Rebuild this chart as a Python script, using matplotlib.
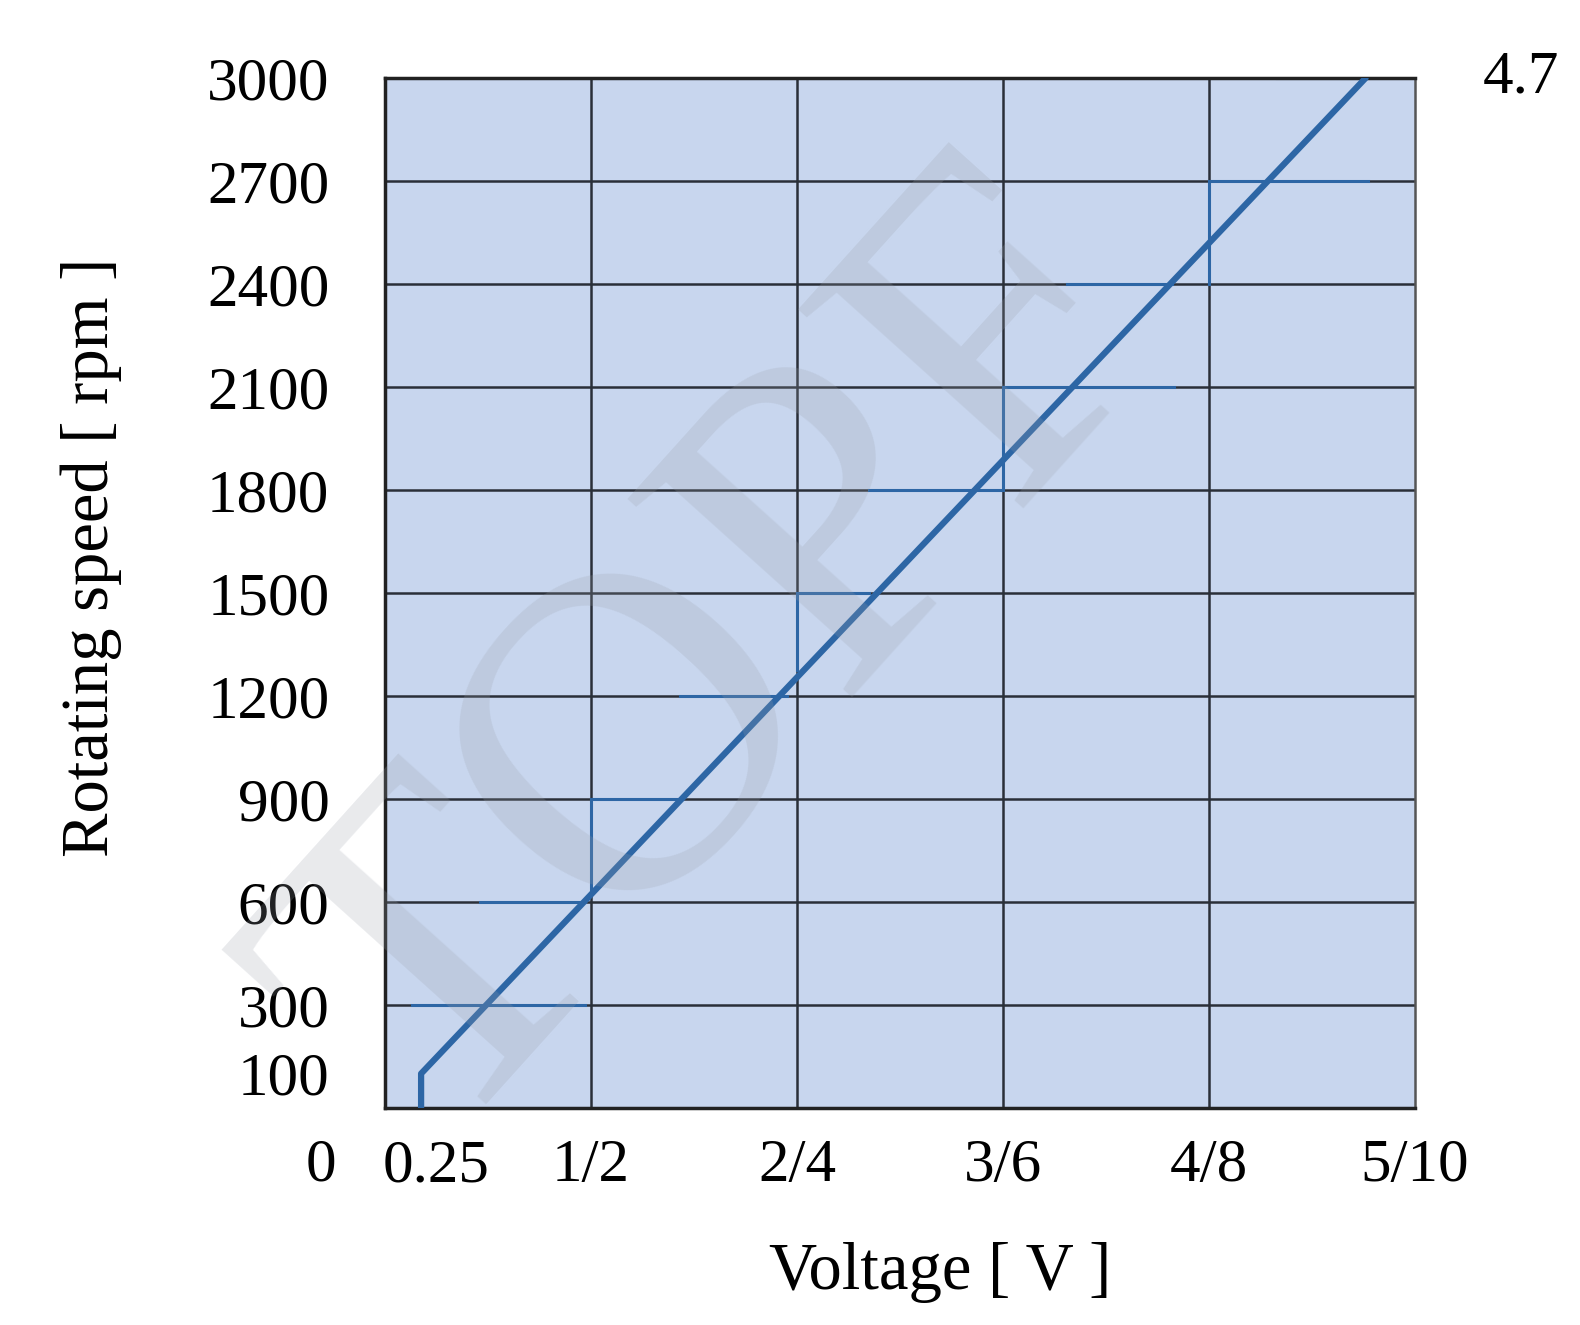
import matplotlib.pyplot as plt

plt.rcParams['font.family'] = ['Liberation Serif', 'DejaVu Serif']

# main characteristic: voltage [V] vs speed [rpm]
volt = [0.175, 0.175, 4.76]
rpm = [0, 100, 3000]

# short step segments drawn over the grid
steps_h = [  # (rpm, x from, x to)
    (300, 0.13, 0.97),
    (600, 0.46, 0.97),
    (900, 1.0, 1.44),
    (1200, 1.43, 1.95),
    (1500, 2.0, 2.35),
    (1800, 2.35, 2.99),
    (2100, 3.0, 3.83),
    (2400, 3.31, 3.82),
    (2700, 4.0, 4.77),
    (3000, 4.33, 4.77),
]
steps_v = [  # (volt, rpm from, rpm to)
    (1.0, 635, 900),
    (2.0, 1276, 1500),
    (3.0, 1800, 2100),
    (4.0, 2400, 2700),
]

xticks = [0.25, 1, 2, 3, 4, 5]
xlabels = ['0.25', '1/2', '2/4', '3/6', '4/8', '5/10']
yticks = [100, 300, 600, 900, 1200, 1500, 1800, 2100, 2400, 2700, 3000]
ygrid = [300, 600, 900, 1200, 1500, 1800, 2100, 2400, 2700]

fig = plt.figure(figsize=(15.8, 13.25), dpi=100)
ax = fig.add_axes([0.2437, 0.1638, 0.6519, 0.7773])
ax.set_facecolor('#c8d6ee')
ax.set_xlim(0, 5)
ax.set_ylim(0, 3000)

for g in [1, 2, 3, 4]:
    ax.axvline(g, color='#2a2f38', lw=1.8, zorder=1)
for g in ygrid:
    ax.axhline(g, color='#2a2f38', lw=1.8, zorder=1)

blue = '#2d66a5'
for y, x0, x1 in steps_h:
    ax.plot([x0, x1], [y, y], color=blue, lw=2.2, zorder=2)
for x, y0, y1 in steps_v:
    ax.plot([x, x], [y0, y1], color=blue, lw=2.2, zorder=2)
ax.plot(volt, rpm, color=blue, lw=4.5, zorder=3, solid_capstyle='round', solid_joinstyle='round')

for s in ax.spines.values():
    s.set_color('#222222')
    s.set_linewidth(2.5)
ax.spines['right'].set_color('#555555')
ax.spines['right'].set_linewidth(1.8)

ax.set_xticks(xticks)
ax.set_xticklabels(xlabels)
ax.set_yticks(yticks)
ax.tick_params(length=0, labelsize=44, pad=22)
ax.tick_params(axis='y', pad=40)
ax.text(-0.31, -0.029, '0', transform=ax.get_xaxis_transform(), ha='center', va='top', fontsize=44)
ax.text(5.33, 3000, '4.7', ha='left', va='center', fontsize=44, clip_on=False)

ax.set_xlabel('Voltage [ V ]', fontsize=48)
ax.set_ylabel('Rotating speed [ rpm ]', fontsize=48)
ax.xaxis.set_label_coords(0.539, -0.13)
ax.yaxis.set_label_coords(-0.255, 0.535)

# faint watermark
fig.text(0.46, 0.5, 'TOPF', fontsize=330, rotation=48, color='#9aa0aa', alpha=0.22,
         ha='center', va='center', zorder=5)

fig.savefig('out.png', dpi=100)
